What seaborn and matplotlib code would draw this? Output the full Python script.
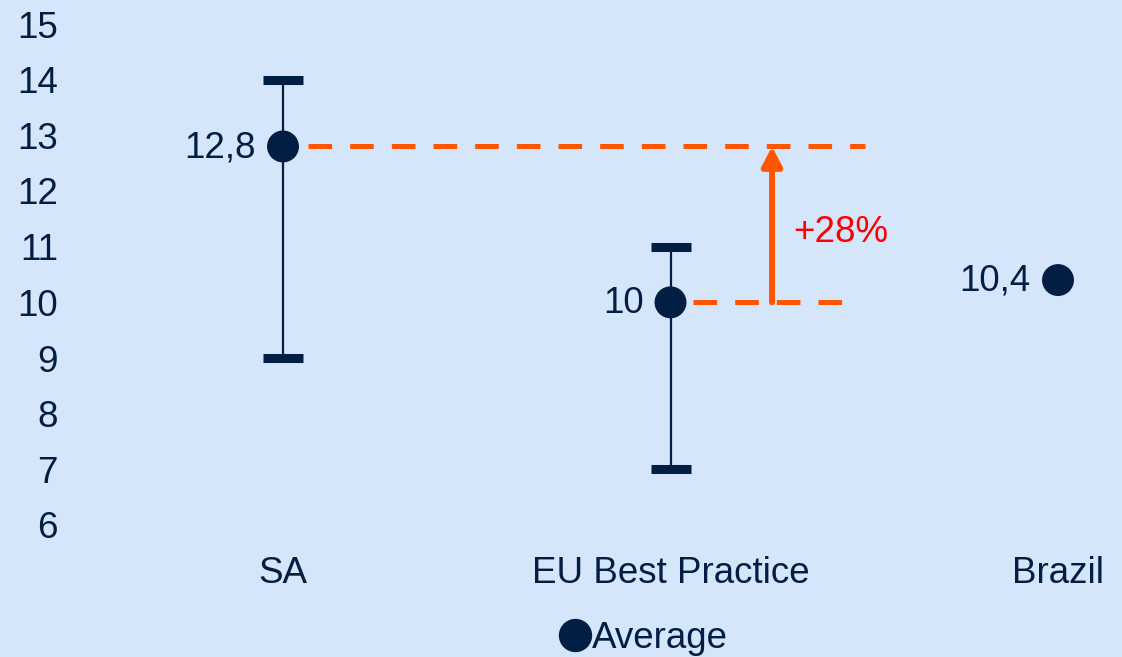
import matplotlib
matplotlib.use("Agg")
import matplotlib.pyplot as plt
from matplotlib.lines import Line2D
import seaborn as sns
import pandas as pd
import numpy as np

categories = ["SA", "EU Best Practice", "Brazil"]
averages = [12.8, 10.0, 10.4]
lows = [9.0, 7.0, np.nan]
highs = [14.0, 11.0, np.nan]
value_labels = ["12,8", "10", "10,4"]
yticks = [6, 7, 8, 9, 10, 11, 12, 13, 14, 15]
pct_label = "+28%"

BG = "#D5E6FB"
NAVY = "#021E43"
ORANGE = "#FF5500"
FS = 26.5

sns.set_theme(style="white")
plt.rcParams["font.family"] = ["Liberation Sans", "DejaVu Sans"]
plt.rcParams["lines.scale_dashes"] = False

fig = plt.figure(figsize=(11.22, 6.57), dpi=100)
fig.patch.set_facecolor(BG)
ax = fig.add_axes([90 / 1122, (657 - 525) / 657, 1 - 90 / 1122, (525 - 24) / 657])
ax.set_facecolor(BG)

df = pd.DataFrame({"cat": categories, "avg": averages, "lo": lows, "hi": highs})
x = np.arange(len(categories))

# error bars
for i in range(len(categories)):
    if not np.isnan(lows[i]):
        ax.errorbar(x[i], averages[i],
                    yerr=[[averages[i] - lows[i]], [highs[i] - averages[i]]],
                    fmt="none", ecolor=NAVY, elinewidth=1.6, capsize=14.5,
                    capthick=6.5, zorder=2)

# dashed reference lines
ax.plot([0.065, 1.502], [averages[0], averages[0]], color=ORANGE, lw=3.6,
        dashes=(17, 13), zorder=1)
ax.plot([1.058, 1.45], [averages[1], averages[1]], color=ORANGE, lw=3.6,
        dashes=(17, 13), zorder=1)

# arrow
ax.annotate("", xy=(1.262, averages[0]), xytext=(1.262, averages[1]),
            arrowprops=dict(arrowstyle="-|>,head_length=1.15,head_width=0.6",
                            mutation_scale=10,
                            color=ORANGE, lw=4.3, shrinkA=0, shrinkB=0),
            zorder=3)
ax.text(1.318, 11.25, pct_label, color="#FF0000", fontsize=FS,
        ha="left", va="center")

sns.scatterplot(data=df, x=x, y="avg", ax=ax, color=NAVY, s=23 ** 2,
                edgecolor="none", zorder=4, legend=False)

for i in range(len(categories)):
    ax.text(x[i] - 0.07, averages[i] - 0.02, value_labels[i], ha="right",
            va="center", fontsize=FS, color=NAVY)

ax.set_xlim((90 - 283) / 387.5, (1122 - 283) / 387.5)
ax.set_ylim(6, 15)
ax.set_yticks(yticks)
ax.set_yticklabels([str(t) for t in yticks])
ax.set_xticks(x)
ax.set_xticklabels(categories)
ax.tick_params(axis="both", length=0, labelsize=FS, colors=NAVY)
ax.tick_params(axis="y", pad=23)
ax.tick_params(axis="x", pad=22)
ax.set_xlabel("")
ax.set_ylabel("")
for s in ax.spines.values():
    s.set_visible(False)
ax.grid(False)

handle = Line2D([], [], marker="o", color=NAVY, linestyle="none", markersize=23)
fig.legend(handles=[handle], labels=["Average"], loc="center",
           bbox_to_anchor=(645 / 1122, 1 - 638 / 657), frameon=False,
           fontsize=FS, handlelength=0.7, handletextpad=0.1,
           labelcolor=NAVY)

fig.savefig("out.png", dpi=100, facecolor=BG)
